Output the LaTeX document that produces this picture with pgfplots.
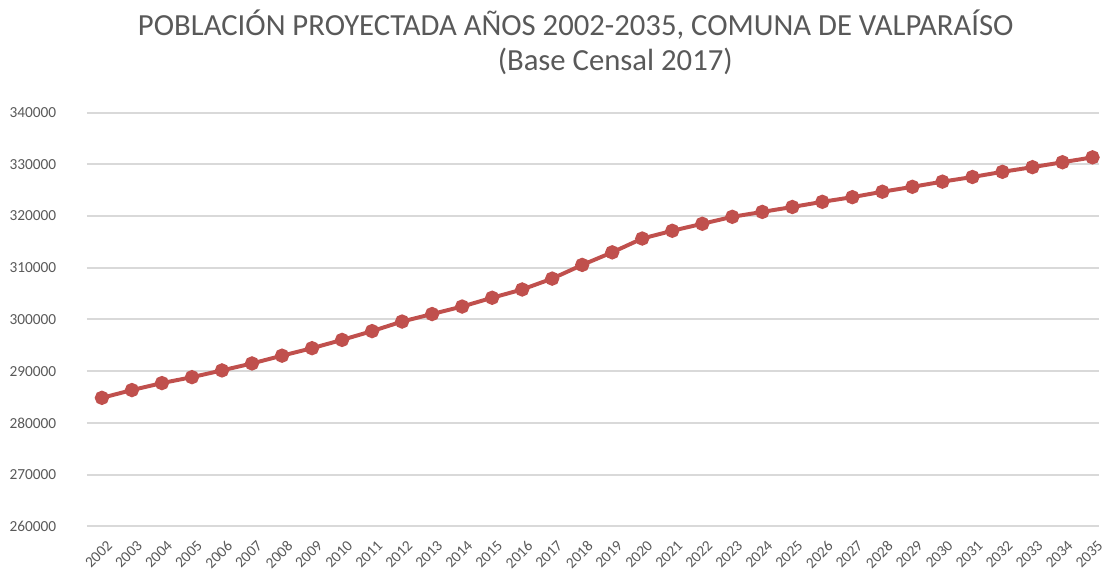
\documentclass[border=0pt]{standalone}
\usepackage{fontspec}
\setmainfont{Carlito}
\usepackage{pgfplots}
\pgfplotsset{compat=1.18}
\definecolor{txtgray}{HTML}{595959}
\definecolor{gridgray}{HTML}{D9D9D9}
\definecolor{linered}{HTML}{C0504D}

\pgfplotstableread{
year pop
2002 284850
2003 286350
2004 287700
2005 288850
2006 290150
2007 291500
2008 293000
2009 294450
2010 296050
2011 297750
2012 299600
2013 301050
2014 302500
2015 304200
2016 305800
2017 307900
2018 310550
2019 312980
2020 315650
2021 317150
2022 318500
2023 319850
2024 320800
2025 321750
2026 322750
2027 323650
2028 324700
2029 325650
2030 326650
2031 327550
2032 328550
2033 329450
2034 330400
2035 331350
}\poptable

\begin{document}
\begin{tikzpicture}
\begin{axis}[
  at={(0,0)}, anchor=south west,
  scale only axis,
  width=512.5bp, height=209.5bp,
  xmin=2001.5, xmax=2035.22,
  ymin=260000, ymax=340000,
  ytick={260000,270000,...,340000},
  xtick={2002,...,2035},
  scaled y ticks=false,
  clip=false,
  axis line style={draw=none},
  major tick length=0pt,
  ymajorgrids,
  grid style={gridgray, line width=1bp},
  /pgf/number format/.cd, fixed, 1000 sep={}, assume math mode=true,
  /pgfplots/.cd,
  yticklabel style={font=\fontsize{7.8}{9}\selectfont, text=txtgray},
  yticklabel shift=12bp,
  xticklabel style={font=\fontsize{7.8}{9}\selectfont, text=txtgray, rotate=45, anchor=north east, xshift=3bp},
  xticklabel shift=4bp,
]
\addplot[linered, line width=2bp, mark=*, mark size=2.6bp, mark options={fill=linered, draw=linered}] table[x=year, y=pop] {\poptable};
\end{axis}
\node[text=txtgray, font=\fontsize{15.6}{18}\selectfont] at (247.5bp,254bp) {POBLACIÓN PROYECTADA AÑOS 2002-2035, COMUNA DE VALPARAÍSO};
\node[text=txtgray, font=\fontsize{15.6}{18}\selectfont] at (267.5bp,235.5bp) {(Base Censal 2017)};
\path[use as bounding box] (-44bp,-24bp) rectangle (512.5bp,266.5bp);
\end{tikzpicture}
\end{document}
